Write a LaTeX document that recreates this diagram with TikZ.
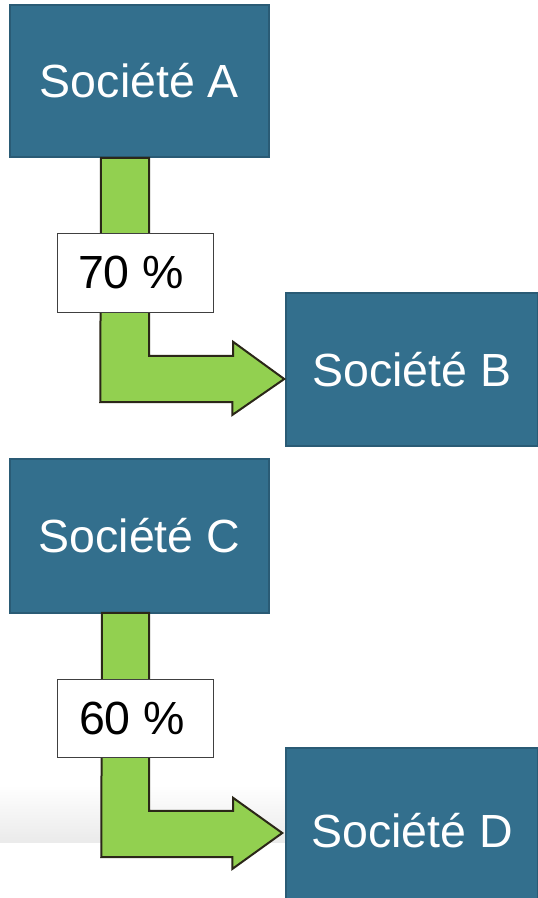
\documentclass[tikz,border=0pt]{standalone}
\usepackage{fontspec}
\setmainfont{Liberation Sans}
\usetikzlibrary{calc}
\definecolor{boxblue}{HTML}{336F8D}
\definecolor{boxedge}{HTML}{2A5B75}
\definecolor{arrowgreen}{HTML}{92D050}
\definecolor{arrowedge}{HTML}{2B2718}
\tikzset{
  company/.style={rectangle, fill=boxblue, draw=boxedge, line width=1.5pt,
    text=white, minimum width=#1, font=\fontsize{46.5}{50}\selectfont, inner sep=0pt},
  company/.default={259pt},
  pct/.style={rectangle, fill=white, draw=black!75, line width=0.8pt,
    minimum width=156pt, minimum height=79pt, inner sep=0pt,
    font=\fontsize{46.5}{50}\selectfont, text=black},
  blockarrow/.style={fill=arrowgreen, draw=arrowedge, line width=2pt, line join=miter}
}
\begin{document}
\begin{tikzpicture}[x=1pt, y=-1pt]
\useasboundingbox (0,0) rectangle (538,898);
\clip (0,0) rectangle (538,898);
% faint background band
\shade[top color=white, bottom color=black!8] (0,785) rectangle (290,842);
% arrows (drawn first, boxes on top)
\coordinate (Aanchor) at (139.5,157);
\coordinate (Canchor) at (139.5,613);
% nodes
\node[company, minimum height=152pt] (A) at (139.5,81) {Société A};
\node[company=252pt, minimum height=153pt] (B) at (412,369.5) {Société B};
\node[company, minimum height=154pt] (C) at (139.5,536) {Société C};
\node[company=252pt, minimum height=166pt] (D) at (412,831) {Société D};
% block arrows between companies
\draw[blockarrow] ($(A.south)+(-38.5,0)$) -- ++(48,0) -- ++(0,198) -- ++(84,0) -- ++(0,-14)
  -- ($(B.west)+(-1,9.5)$) -- ++(-52,36) -- ++(0,-13) -- ++(-132,0) -- cycle;
\draw[blockarrow] ($(C.south)+(-37.5,-1)$) -- ++(47,0) -- ++(0,198) -- ++(84,0) -- ++(0,-13)
  -- ($(D.west)+(-3,2)$) -- ++(-50,36) -- ++(0,-12) -- ++(-131,0) -- cycle;
% labels
\node[pct] (pAB) at (135,272.5) {70 \%\hspace*{8pt}};
\node[pct, minimum height=78pt] (pCD) at (135,718) {60 \%\hspace*{6pt}};
\end{tikzpicture}
\end{document}
